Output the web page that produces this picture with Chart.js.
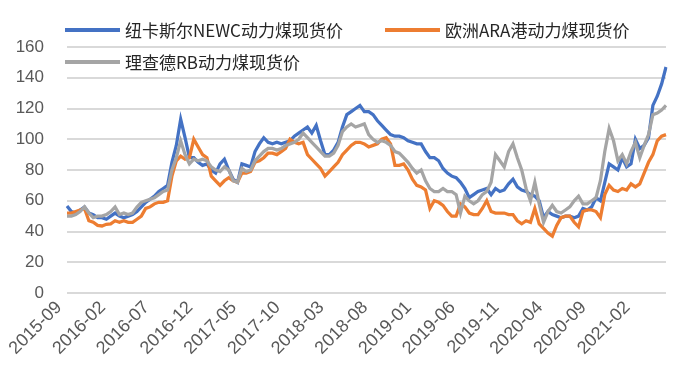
<!DOCTYPE html>
<html>
<head>
<meta charset="utf-8">
<script src="https://cdn.jsdelivr.net/npm/chart.js@4.4.0/dist/chart.umd.min.js"></script>
<style>
  html, body { margin: 0; padding: 0; background: #fff; }
  #wrap { width: 700px; height: 383px; }
</style>
</head>
<body>
<div id="wrap"><canvas id="coal" width="700" height="383"></canvas></div>
<script>
// half-monthly readings from 2015-09 on, USD/t
const startMonth = '2015-09';
const tickLabels = ['2015-09', '2016-02', '2016-07', '2016-12', '2017-05', '2017-10', '2018-03',
    '2018-08', '2019-01', '2019-06', '2019-11', '2020-04', '2020-09', '2021-02'];
const seriesNames = ['纽卡斯尔NEWC动力煤现货价', '欧洲ARA港动力煤现货价', '理查德RB动力煤现货价'];
const seriesColors = ['#4472C4', '#ED7D31', '#A5A5A5'];

const newcPrice = [
    56.6, 53, 52, 54, 56, 52, 51, 49, 49, 48,
    50, 52, 50, 49, 50, 51, 53, 56, 59, 61,
    63, 66, 68, 70, 85, 96, 113, 101, 88, 88,
    85, 83, 84, 80, 78, 84, 87, 80, 74, 72,
    84, 83, 82, 92, 97, 101, 98, 97, 98, 97,
    98, 99, 102, 104, 106, 108, 104, 109, 99, 90,
    90, 93, 98, 108, 116, 118, 120, 122, 118, 118,
    116, 112, 109, 106, 103, 102, 102, 101, 99, 98,
    97, 97, 92, 88, 88, 86, 81, 78, 76, 75,
    72, 68, 62, 64, 66, 67, 68, 64, 68, 66,
    67, 71, 74, 69, 67, 66, 64, 63, 60, 49,
    53, 51, 50, 49, 50, 50, 49, 50, 55, 54,
    56, 62, 60, 72, 84, 82, 80, 88, 82, 84,
    100, 94, 96, 101, 122, 128, 136, 147
];
const araPrice = [
    52, 52, 53, 54, 55, 47, 46, 44, 43.6, 44.7,
    45, 47, 46, 47, 46, 46, 48, 50, 55, 56,
    58, 59, 59, 60, 76, 86, 89, 87, 88, 100,
    95, 90, 88, 76, 73, 70, 73, 75, 73, 72,
    78, 78, 79, 85, 86, 88, 91, 91, 90, 92,
    94, 100, 98, 97, 98, 90, 87, 84, 81, 76,
    79, 82, 85, 90, 93, 96, 98, 98, 97, 95,
    96, 97, 100, 101, 97, 83, 83, 84, 80, 74,
    70, 69, 67, 55, 60, 59, 57, 53, 50, 50,
    58, 56, 52, 51, 51, 55, 60, 53, 52, 52,
    52, 51, 51, 47, 45, 47, 46, 55, 45, 42,
    39, 37, 44, 49, 50, 50, 46, 43, 53, 54,
    54, 53, 49, 64, 70, 67, 66, 68, 67, 71,
    69, 71, 78, 85, 90, 99, 102, 103
];
const rbPrice = [
    50, 50, 51, 53, 56, 52, 49, 50, 50, 51,
    53, 56, 51, 52, 51, 52, 56, 59, 60, 61,
    62, 64, 66, 67, 80, 88, 99, 90, 84, 87,
    86, 87, 86, 82, 80, 79, 82, 80, 73, 72,
    81, 79, 80, 86, 89, 92, 94, 94, 93, 94,
    96, 97, 98, 100, 104, 101, 98, 95, 92, 89,
    89, 91, 96, 105, 108, 110, 108, 109, 110, 103,
    100, 98, 99, 98, 96, 92, 91, 88, 85, 81,
    78, 80, 73, 68, 66, 66, 68, 66, 66, 64,
    52, 63, 60, 58, 60, 64, 66, 72, 90, 86,
    82, 92, 97, 88, 80, 68, 60, 72, 58, 46,
    53, 57, 53, 52, 54, 56, 60, 63, 58, 58,
    60, 62, 73, 92, 107, 99, 86, 90, 84, 92,
    98, 88, 96, 103, 116, 117, 119, 122
];

// category labels: 1st and 16th of each month
const [y0, m0] = startMonth.split('-').map(Number);
const periods = newcPrice.map((_, i) => {
    const m = m0 - 1 + Math.floor(i / 2);
    const y = y0 + Math.floor(m / 12);
    return y + '-' + String(m % 12 + 1).padStart(2, '0') + (i % 2 ? '-16' : '-01');
});

// legend sits inside the plot like the excel original
const plotLegend = {
    id: 'plotLegend',
    afterDraw(chart, args, opts) {
        const ctx = chart.ctx;
        ctx.save();
        ctx.font = opts.font;
        ctx.textBaseline = 'middle';
        ctx.textAlign = 'left';
        chart.data.datasets.forEach((ds, i) => {
            const p = opts.slots[i];
            ctx.strokeStyle = ds.borderColor;
            ctx.lineWidth = 4;
            ctx.beginPath();
            ctx.moveTo(p.x, p.y);
            ctx.lineTo(p.x + 55, p.y);
            ctx.stroke();
            ctx.fillStyle = opts.color;
            ctx.fillText(ds.label, p.x + 60, p.y + 1);
        });
        ctx.restore();
    }
};

const priceSeries = [newcPrice, araPrice, rbPrice];

new Chart(document.getElementById('coal'), {
    type: 'line',
    data: {
        labels: periods,
        datasets: priceSeries.map((vals, i) => ({
            label: seriesNames[i],
            data: vals,
            borderColor: seriesColors[i],
            backgroundColor: seriesColors[i],
            borderWidth: 3.25,
            pointRadius: 0,
            tension: 0,
            order: 2 - i   // grey drawn last, on top
        }))
    },
    options: {
        responsive: false,
        animation: false,
        layout: { padding: { left: 15, top: 47, right: 34, bottom: 28 } },
        plugins: {
            legend: { display: false },
            tooltip: { enabled: false },
            plotLegend: {
                font: '17px "Noto Sans CJK SC"',
                color: '#262626',
                slots: [{ x: 65, y: 30 }, { x: 385, y: 30 }, { x: 65, y: 62 }]
            }
        },
        scales: {
            x: {
                grid: { display: false },
                border: { display: false },
                // let the first rotated label hang under the y labels instead of squeezing the plot
                afterFit(scale) {
                    scale.paddingLeft = 0;
                    scale.paddingRight = 0;
                },
                ticks: {
                    autoSkip: false,
                    minRotation: 45,
                    maxRotation: 45,
                    padding: -4,
                    labelOffset: -8,
                    color: '#595959',
                    font: { family: '"Liberation Sans", Arial', size: 18 },
                    callback(value) {
                        const p = periods[value];
                        const ym = p.slice(0, 7);
                        return p.endsWith('-01') && tickLabels.includes(ym) ? ym : '';
                    }
                }
            },
            y: {
                min: 0,
                max: 160,
                border: { display: false },
                grid: { color: '#D9D9D9', lineWidth: 2, drawTicks: false },
                // chart.js counts the tick padding twice in the axis width
                afterFit(scale) {
                    scale.width = 52;
                },
                ticks: {
                    stepSize: 20,
                    padding: 23,
                    color: '#595959',
                    font: { family: '"Liberation Sans", Arial', size: 17 }
                }
            }
        }
    },
    plugins: [plotLegend]
});
</script>
</body>
</html>
